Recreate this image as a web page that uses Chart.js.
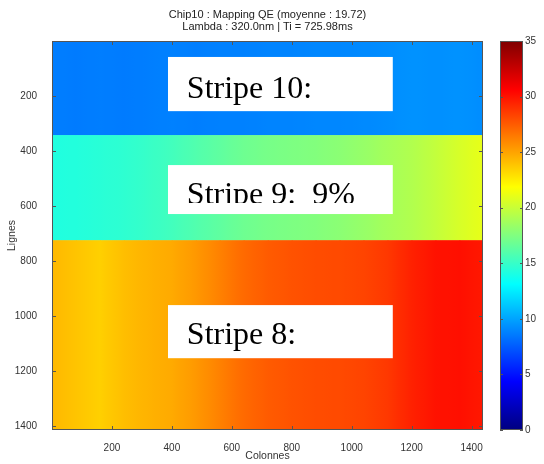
<!DOCTYPE html>
<html>
<head>
<meta charset="utf-8">
<script src="https://cdn.jsdelivr.net/npm/chart.js@4.4.1/dist/chart.umd.min.js"></script>
<style>
  html, body { margin: 0; padding: 0; background: #fff; }
</style>
</head>
<body>
<canvas id="qeMap" width="544" height="464"></canvas>
<script>
// QE map of Chip10
var titleLines = ['Chip10 : Mapping QE (moyenne : 19.72)', 'Lambda : 320.0nm | Ti = 725.98ms'];

// columns (Colonnes) where the QE profile was sampled
var columns = [0, 80, 160, 240, 320, 400, 480, 560, 640, 720, 800, 880, 960, 1040, 1120, 1200, 1280, 1360, 1440];
// row edges (Lignes) of stripes 10, 9 and 8
var stripeRows = [0, 342, 724, 1414];
// QE (%) along the columns, one list per stripe
var stripe10 = [8.7, 8.6, 8.7, 8.6, 8.7, 8.8, 8.7, 8.8, 8.8, 8.9, 8.9, 9.0, 9.0, 9.1, 9.2, 9.4, 9.3, 9.4, 9.2];
var stripe9 = [14.2, 14.3, 14.5, 14.7, 15.0, 15.4, 15.9, 16.4, 16.9, 17.2, 17.4, 17.6, 17.9, 18.3, 18.8, 19.2, 19.8, 20.5, 21.1];
var stripe8 = [24.3, 23.9, 23.5, 24.1, 24.5, 24.8, 25.4, 26.2, 27.0, 27.5, 27.8, 28.0, 28.1, 28.3, 28.7, 29.5, 30.0, 30.1, 29.8];

var xTicks = [200, 400, 600, 800, 1000, 1200, 1400];
var yTicks = [200, 400, 600, 800, 1000, 1200, 1400];
var cbTicks = [0, 5, 10, 15, 20, 25, 30, 35];
var cbMin = 0, cbMax = 35;

var noteText = ['Stripe 10:', 'Stripe 9:  9%', 'Stripe 8:'];
// white boxes pasted on the map, in data units
var noteBoxes = [
  { x0: 387, x1: 1137, y0: 58, y1: 255, tx: 450, ty: 207, clip: 255 },
  { x0: 387, x1: 1137, y0: 451, y1: 629, tx: 450, ty: 592, clip: 589 },
  { x0: 387, x1: 1137, y0: 960, y1: 1153, tx: 450, ty: 1102, clip: 1153 }
];

function jet(v) {
  var t = (v - cbMin) / (cbMax - cbMin);
  function c(a) { return Math.round(255 * Math.max(0, Math.min(1, a))); }
  var r = Math.min(4 * t - 1.5, -4 * t + 4.5);
  var g = Math.min(4 * t - 0.5, -4 * t + 3.5);
  var b = Math.min(4 * t + 0.5, -4 * t + 2.5);
  return 'rgb(' + c(r) + ',' + c(g) + ',' + c(b) + ')';
}

var heatmap = {
  id: 'heatmap',
  beforeDatasetsDraw: function (chart) {
    var ctx = chart.ctx, xs = chart.scales.x, ys = chart.scales.y, a = chart.chartArea;
    var stripes = [stripe10, stripe9, stripe8];
    ctx.save();
    ctx.beginPath();
    ctx.rect(a.left, a.top, a.right - a.left, a.bottom - a.top);
    ctx.clip();
    stripes.forEach(function (vals, s) {
      var top = ys.getPixelForValue(stripeRows[s]);
      var bot = ys.getPixelForValue(stripeRows[s + 1]);
      for (var i = 0; i < columns.length - 1; i++) {
        var x0 = xs.getPixelForValue(columns[i]);
        var x1 = xs.getPixelForValue(columns[i + 1]);
        var grad = ctx.createLinearGradient(x0, 0, x1, 0);
        for (var k = 0; k <= 4; k++) {
          grad.addColorStop(k / 4, jet(vals[i] + (vals[i + 1] - vals[i]) * k / 4));
        }
        ctx.fillStyle = grad;
        ctx.fillRect(x0, top, x1 - x0 + 0.6, bot - top + 0.6);
      }
    });
    ctx.restore();
  },
  afterDraw: function (chart) {
    var ctx = chart.ctx, xs = chart.scales.x, ys = chart.scales.y, cs = chart.scales.c, a = chart.chartArea;
    ctx.save();
    // note boxes
    noteBoxes.forEach(function (b, i) {
      var l = xs.getPixelForValue(b.x0), r = xs.getPixelForValue(b.x1);
      var t = ys.getPixelForValue(b.y0), bt = ys.getPixelForValue(b.y1);
      ctx.fillStyle = '#fff';
      ctx.fillRect(l, t, r - l, bt - t);
      ctx.save();
      ctx.beginPath();
      ctx.rect(l, t, r - l, ys.getPixelForValue(b.clip) - t);
      ctx.clip();
      ctx.fillStyle = '#000';
      ctx.font = '32px "Liberation Serif", "Times New Roman", serif';
      ctx.textBaseline = 'alphabetic';
      ctx.textAlign = 'left';
      ctx.fillText(noteText[i], xs.getPixelForValue(b.tx), ys.getPixelForValue(b.ty));
      ctx.restore();
    });

    // axes box with inward ticks
    ctx.strokeStyle = '#555';
    ctx.lineWidth = 1;
    ctx.strokeRect(a.left + 0.5, a.top + 0.5, a.right - a.left - 1, a.bottom - a.top - 1);
    ctx.beginPath();
    xTicks.forEach(function (v) {
      var px = Math.round(xs.getPixelForValue(v)) + 0.5;
      ctx.moveTo(px, a.bottom); ctx.lineTo(px, a.bottom - 4);
      ctx.moveTo(px, a.top); ctx.lineTo(px, a.top + 4);
    });
    yTicks.forEach(function (v) {
      var py = Math.round(ys.getPixelForValue(v)) + 0.5;
      ctx.moveTo(a.left, py); ctx.lineTo(a.left + 4, py);
      ctx.moveTo(a.right, py); ctx.lineTo(a.right - 4, py);
    });
    ctx.stroke();

    // colorbar
    var cl = cs.left + 17, cr = cs.left + 40;
    var ct = cs.getPixelForValue(cbMax), cb = cs.getPixelForValue(cbMin);
    var grad = ctx.createLinearGradient(0, cb, 0, ct);
    for (var k = 0; k <= 64; k++) {
      grad.addColorStop(k / 64, jet(cbMin + (cbMax - cbMin) * k / 64));
    }
    ctx.fillStyle = grad;
    ctx.fillRect(cl, ct, cr - cl, cb - ct);
    ctx.strokeRect(cl + 0.5, ct + 0.5, cr - cl - 1, cb - ct - 1);
    ctx.beginPath();
    cbTicks.forEach(function (v) {
      var py = Math.round(cs.getPixelForValue(v)) + 0.5;
      ctx.moveTo(cl, py); ctx.lineTo(cl + 3, py);
      ctx.moveTo(cr, py); ctx.lineTo(cr - 3, py);
    });
    ctx.stroke();
    ctx.restore();
  }
};

var tickFont = { family: '"Liberation Sans", Arial, sans-serif', size: 10 };
var labelFont = { family: '"Liberation Sans", Arial, sans-serif', size: 10.5 };
function plain(v) { return String(v); }
function noPad(s) { s.paddingTop = 0; s.paddingBottom = 0; s.paddingLeft = 0; s.paddingRight = 0; }

var qeMap = new Chart(document.getElementById('qeMap').getContext('2d'), {
  type: 'scatter',
  data: { datasets: [] },
  options: {
    responsive: false,
    animation: false,
    layout: { padding: 0 },
    plugins: {
      legend: { display: false },
      tooltip: { enabled: false },
      title: {
        display: true,
        text: titleLines,
        fullSize: false,
        color: '#222',
        font: { family: '"Liberation Sans", Arial, sans-serif', size: 11, weight: 'normal', lineHeight: 1.1 },
        padding: { top: 8.8, bottom: 8 }
      }
    },
    scales: {
      x: {
        type: 'linear',
        position: 'bottom',
        min: 0,
        max: 1438,
        afterBuildTicks: function (s) { s.ticks = xTicks.map(function (v) { return { value: v }; }); },
        afterFit: function (s) { s.height = 34; noPad(s); },
        grid: { display: false },
        border: { display: false },
        ticks: { font: tickFont, color: '#333', padding: 4, maxRotation: 0, callback: plain },
        title: { display: true, text: 'Colonnes', font: labelFont, color: '#333', padding: { top: 0, bottom: 2 } }
      },
      y: {
        type: 'linear',
        position: 'left',
        reverse: true,
        min: 0,
        max: 1414,
        afterBuildTicks: function (s) { s.ticks = yTicks.map(function (v) { return { value: v }; }); },
        afterFit: function (s) { s.width = 52; noPad(s); },
        grid: { display: false },
        border: { display: false },
        ticks: { font: tickFont, color: '#333', padding: 7, callback: plain },
        title: { display: true, text: 'Lignes', font: labelFont, color: '#333', padding: { top: 6, bottom: 0 } }
      },
      c: {
        axis: 'y',
        type: 'linear',
        position: 'right',
        min: cbMin,
        max: cbMax,
        afterBuildTicks: function (s) { s.ticks = cbTicks.map(function (v) { return { value: v }; }); },
        afterFit: function (s) { s.width = 61; noPad(s); },
        grid: { display: false, drawTicks: false },
        border: { display: false },
        ticks: { font: tickFont, color: '#333', padding: 42, callback: plain }
      }
    }
  },
  plugins: [heatmap]
});
</script>
</body>
</html>
